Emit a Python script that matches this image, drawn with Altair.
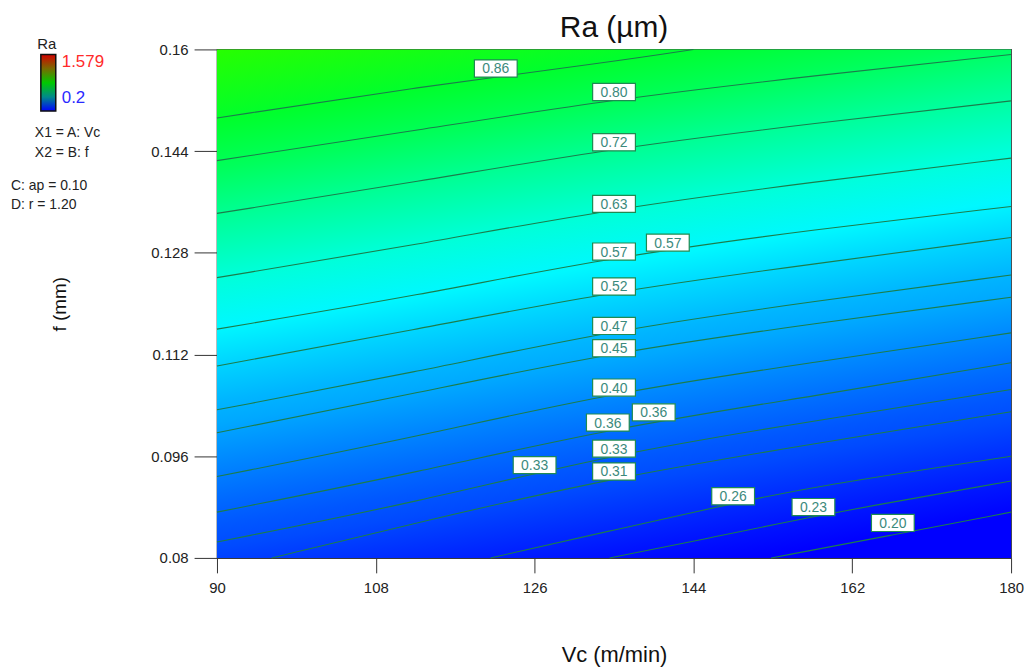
import altair as alt
import pandas as pd

# ---------------- data ----------------
VC_DOMAIN = [90, 180]
F_DOMAIN = [0.08, 0.16]
VC_TICKS = [90, 108, 126, 144, 162, 180]
F_TICKS = [0.08, 0.096, 0.112, 0.128, 0.144, 0.16]

VC5 = [90, 112.8, 135.0, 157.9, 180]

C086_VC = [90, 112.8, 135.0, 144.0]
C086_F = [0.1492, 0.1541, 0.1581, 0.1600]
C080_F = [0.1425, 0.1473, 0.1522, 0.1559, 0.1592]
C072_F = [0.1342, 0.1392, 0.1445, 0.1484, 0.1519]
C063_F = [0.1241, 0.1293, 0.1350, 0.1392, 0.1429]
C057_F = [0.1160, 0.1213, 0.1274, 0.1317, 0.1353]
C052_F = [0.1102, 0.1160, 0.1220, 0.1263, 0.1304]
C047_F = [0.1033, 0.1093, 0.1159, 0.1204, 0.1245]
C045_F = [0.0997, 0.1060, 0.1124, 0.1169, 0.1210]
C040_F = [0.0928, 0.0991, 0.1061, 0.1108, 0.1154]
C036_F = [0.0872, 0.0935, 0.1005, 0.1055, 0.1107]
C033_F = [0.0825, 0.0888, 0.0964, 0.1016, 0.1065]
C031_VC = [96.2, 112.8, 135.0, 157.9, 180]
C031_F = [0.0800, 0.0856, 0.0927, 0.0980, 0.1030]
C026_VC = [121.0, 135.0, 148.5, 157.9, 180]
C026_F = [0.0800, 0.0844, 0.0886, 0.0913, 0.0960]
C023_VC = [134.5, 144.4, 157.6, 180]
C023_F = [0.0800, 0.0827, 0.0866, 0.0921]
C020_VC = [152.8, 166.6, 180]
C020_F = [0.0800, 0.0836, 0.0872]

CONTOURS = [
    (0.86, C086_VC, C086_F),
    (0.80, VC5, C080_F),
    (0.72, VC5, C072_F),
    (0.63, VC5, C063_F),
    (0.57, VC5, C057_F),
    (0.52, VC5, C052_F),
    (0.47, VC5, C047_F),
    (0.45, VC5, C045_F),
    (0.40, VC5, C040_F),
    (0.36, VC5, C036_F),
    (0.33, VC5, C033_F),
    (0.31, C031_VC, C031_F),
    (0.26, C026_VC, C026_F),
    (0.23, C023_VC, C023_F),
    (0.20, C020_VC, C020_F),
]

LABEL_TEXT = ["0.86", "0.80", "0.72", "0.63", "0.57", "0.57", "0.52", "0.47", "0.45",
              "0.40", "0.36", "0.36", "0.33", "0.33", "0.31", "0.26", "0.23", "0.20"]
LABEL_VC = [121.6, 135.0, 135.0, 135.0, 135.0, 141.1, 135.0, 135.0, 135.0,
            135.0, 134.3, 139.5, 135.0, 126.0, 135.0, 148.5, 157.6, 166.6]
LABEL_F = [0.1570, 0.1533, 0.1454, 0.1357, 0.1282, 0.1296, 0.1227, 0.1165, 0.1130,
           0.1068, 0.1013, 0.1029, 0.0972, 0.0946, 0.0936, 0.0897, 0.0880, 0.0855]

CORNER_RA_TOPLEFT = 0.97
CORNER_RA_BOTTOMRIGHT = 0.16

# ---------------- styling helpers ----------------
FONT = "Liberation Sans"
W, H = 798, 511

# colour ramp as seen in the picture (Ra -> rgb)
CMAP = [(0.20, (0, 0, 255)), (0.58, (0, 255, 255)), (0.92, (0, 255, 0)),
        (1.25, (255, 255, 0)), (1.579, (255, 0, 0))]


def ra_color(ra):
    ra = max(CMAP[0][0], min(CMAP[-1][0], ra))
    for (t0, c0), (t1, c1) in zip(CMAP[:-1], CMAP[1:]):
        if ra <= t1:
            u = (ra - t0) / (t1 - t0)
            c = [round(a + (b - a) * u) for a, b in zip(c0, c1)]
            return "#%02x%02x%02x" % tuple(c)
    return "#ff0000"


# gradient direction (normalised bbox space), perpendicular to contours
DX, DY = 0.25, 1.0
SMAX = 0.5 * (DX + DY)
D2 = DX * DX + DY * DY
P0 = (0.5 - DX * SMAX / D2, 0.5 - DY * SMAX / D2)
P1 = (0.5 + DX * SMAX / D2, 0.5 + DY * SMAX / D2)


def offset(vc, f):
    nx = (vc - VC_DOMAIN[0]) / (VC_DOMAIN[1] - VC_DOMAIN[0])
    ny = (F_DOMAIN[1] - f) / (F_DOMAIN[1] - F_DOMAIN[0])
    s = (nx - 0.5) * DX + (ny - 0.5) * DY
    return 0.5 + s / (2 * SMAX)


stops = [alt.GradientStop(color=ra_color(CORNER_RA_TOPLEFT), offset=0)]
prev = 0.0
for lvl, vcs, fs in CONTOURS:
    o = sum(offset(v, f) for v, f in zip(vcs, fs)) / len(vcs)
    o = min(max(o, prev + 0.001), 0.999)
    prev = o
    stops.append(alt.GradientStop(color=ra_color(lvl), offset=round(o, 4)))
stops.append(alt.GradientStop(color=ra_color(CORNER_RA_BOTTOMRIGHT), offset=1))

bg_gradient = alt.LinearGradient(gradient="linear", stops=stops,
                                 x1=round(P0[0], 4), y1=round(P0[1], 4),
                                 x2=round(P1[0], 4), y2=round(P1[1], 4))

xscale = alt.Scale(domain=VC_DOMAIN, nice=False, zero=False)
yscale = alt.Scale(domain=F_DOMAIN, nice=False, zero=False)

xaxis = alt.Axis(values=VC_TICKS, format="d", grid=False, labelFlush=False,
                 tickSize=15, tickColor="#333", domainColor="#333",
                 labelPadding=8, labelFont=FONT, labelFontSize=15, labelColor="#222",
                 title="Vc (m/min)", titleFont=FONT, titleFontSize=22,
                 titleFontWeight="normal", titleColor="#111",
                 titleY=97, titleBaseline="middle")
yaxis = alt.Axis(values=F_TICKS, format=".3~f", grid=False, labelFlush=False,
                 tickSize=23, tickColor="#333", domainColor="#333",
                 labelPadding=6, labelFont=FONT, labelFontSize=15, labelColor="#222",
                 title="f (mm)", titleFont=FONT, titleFontSize=19,
                 titleFontWeight="normal", titleColor="#111",
                 titleX=-158, titleY=H / 2, titleAngle=-90,
                 titleBaseline="middle", titleAlign="center")


def X(field):
    return alt.X(field, type="quantitative", scale=xscale, axis=xaxis, title="Vc (m/min)")


def Y(field):
    return alt.Y(field, type="quantitative", scale=yscale, axis=yaxis, title="f (mm)")


# ---------------- tables ----------------
bg_df = pd.DataFrame({"x0": [VC_DOMAIN[0]], "x1": [VC_DOMAIN[1]],
                      "y0": [F_DOMAIN[0]], "y1": [F_DOMAIN[1]]})

rows = []
for lvl, vcs, fs in CONTOURS:
    for v, f in zip(vcs, fs):
        rows.append({"level": lvl, "Vc": v, "f": f})
lines_df = pd.DataFrame(rows)

labels_df = pd.DataFrame({"text": LABEL_TEXT, "Vc": LABEL_VC, "f": LABEL_F})

one = pd.DataFrame({"a": [1]})

# ---------------- layers ----------------
background = alt.Chart(bg_df).mark_rect(fill=bg_gradient, stroke=None).encode(
    x=X("x0"), x2="x1", y=Y("y0"), y2="y1")

lines = alt.Chart(lines_df).mark_line(color="#1b7d4c", strokeWidth=1.1,
                                       interpolate="basis").encode(
    x=X("Vc"), y=Y("f"), detail="level:N")

BOX = "M-1,-0.4L1,-0.4L1,0.4L-1,0.4Z"
boxes = alt.Chart(labels_df).mark_point(shape=BOX, size=43 * 43, filled=True,
                                         fill="white", fillOpacity=1,
                                         stroke="#1f8a52", strokeWidth=1.2,
                                         opacity=1).encode(
    x=X("Vc"), y=Y("f"))

texts = alt.Chart(labels_df).mark_text(font=FONT, fontSize=14, color="#3b8a7c",
                                        align="center", baseline="middle", dy=1).encode(
    x=X("Vc"), y=Y("f"), text="text:N")

title = alt.Chart(one).mark_text(text="Ra (µm)", font=FONT, fontSize=30, color="#111",
                                  align="center", baseline="middle").encode(
    x=alt.value(W / 2), y=alt.value(-21))

bar_gradient = alt.LinearGradient(
    gradient="linear", x1=0, y1=0, x2=0, y2=1,
    stops=[alt.GradientStop(color="#d40000", offset=0),
           alt.GradientStop(color="#7a6a00", offset=0.25),
           alt.GradientStop(color="#00c800", offset=0.5),
           alt.GradientStop(color="#008a8a", offset=0.75),
           alt.GradientStop(color="#0000ff", offset=1)])
colorbar = alt.Chart(one).mark_rect(fill=bar_gradient, stroke="#111", strokeWidth=1.5).encode(
    x=alt.value(-177), x2=alt.value(-162), y=alt.value(5), y2=alt.value(62))


def note(txt, px, py, color="#222", size=14, align="left"):
    return alt.Chart(one).mark_text(text=txt, font=FONT, fontSize=size, color=color,
                                     align=align, baseline="middle").encode(
        x=alt.value(px), y=alt.value(py))


notes = [
    note("Ra", -171, -5, size=15, align="center"),
    note("1.579", -156, 13, color="#ff2a2a", size=17),
    note("0.2", -156, 49, color="#2a2aff", size=17),
    note("X1 = A: Vc", -183, 84),
    note("X2 = B: f", -183, 104),
    note("C: ap = 0.10", -207, 137),
    note("D: r = 1.20", -207, 156),
]

chart = alt.layer(background, lines, boxes, texts, title, colorbar, *notes).properties(
    width=W, height=H,
    autosize=alt.AutoSizeParams(type="none"),
    padding={"left": 210, "top": 40, "right": 14, "bottom": 110},
).configure_view(stroke="#444", strokeWidth=1.2)

chart.save("out.html", embed_options={"renderer": "svg", "actions": False})
